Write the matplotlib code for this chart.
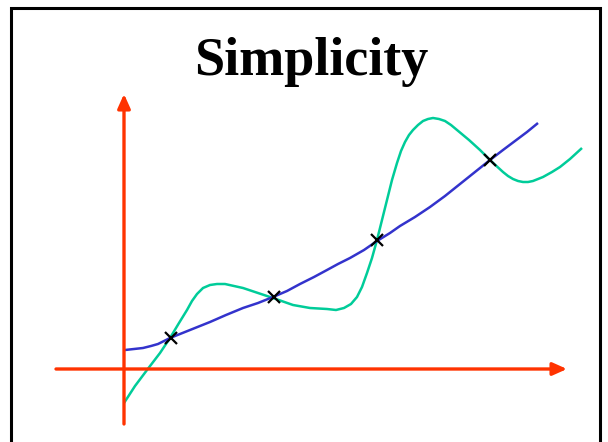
import matplotlib
matplotlib.use("Agg")
from matplotlib import pyplot as plt

# origin of the drawing = where the two red axes cross; y grows upwards
blue_x = [1, 10, 19, 27, 34, 46, 56, 66, 86, 102, 119, 134, 149, 163, 176, 190, 203, 214,
          226, 240, 253, 266, 276, 291, 306, 321, 336, 351, 366, 379, 391, 403, 414]
blue_y = [19, 20, 21, 23, 25, 31, 35, 39, 47, 54, 61, 66, 72, 78, 85, 92, 99, 105,
          111, 119, 128, 136, 143, 152, 162, 173, 185, 197, 209, 219, 228, 237, 246]

green_x = [0, 11, 23, 36, 46, 55, 63, 68, 73, 79, 86, 93, 101, 110, 119, 134, 149, 169,
           186, 203, 212, 220, 227, 233, 238, 243, 248, 253, 258, 263, 268, 273, 277, 281,
           285, 289, 294, 299, 304, 309, 315, 321, 327, 333, 345, 356, 367, 379, 384, 389,
           394, 399, 404, 409, 414, 419, 428, 436, 446, 458]
green_y = [-34, -17, -1, 16, 31, 46, 59, 68, 75, 81, 84, 85, 85, 83, 81, 76, 71, 64,
           61, 60, 59, 61, 65, 72, 82, 96, 111, 129, 149, 169, 189, 206, 218, 227,
           234, 239, 244, 248, 250, 251, 250, 248, 244, 239, 229, 219, 208, 197, 193, 190,
           188, 187, 187, 188, 190, 192, 197, 202, 210, 221]

cross_x = [47, 150, 253, 366]
cross_y = [31, 72, 129, 209]

title = "Simplicity"
red = "#ff3300"
blue = "#3333cc"
green = "#00cc99"

fig = plt.figure(figsize=(6.08, 4.42), dpi=100)
ax = fig.add_axes([0, 0, 1, 1])
ax.set_xlim(-124, 484)
ax.set_ylim(-73, 369)
ax.axis("off")

# slide frame (runs off the bottom edge)
ax.plot([-113, -113, 476, 476], [-90, 361, 361, -90], color="black", lw=2.2,
        solid_joinstyle="miter")

# red axes with arrow heads
arrow = dict(arrowstyle="-|>,head_length=0.85,head_width=0.38", color=red, lw=2.4,
             shrinkA=0, shrinkB=0)
ax.annotate("", xy=(0, 275), xytext=(0, -55), arrowprops=arrow)
ax.annotate("", xy=(443, 0), xytext=(-68, 0), arrowprops=arrow)

ax.plot(green_x, green_y, color=green, lw=1.8, solid_capstyle="butt",
        solid_joinstyle="round")
ax.plot(blue_x, blue_y, color=blue, lw=1.8, solid_capstyle="butt",
        solid_joinstyle="round")
ax.plot(cross_x, cross_y, "x", color="black", ms=9, mew=1.6)

ax.text(187, 294, title, ha="center", va="baseline", fontsize=39,
        fontweight="bold", family="Liberation Serif")

fig.savefig("out.png", dpi=100)
